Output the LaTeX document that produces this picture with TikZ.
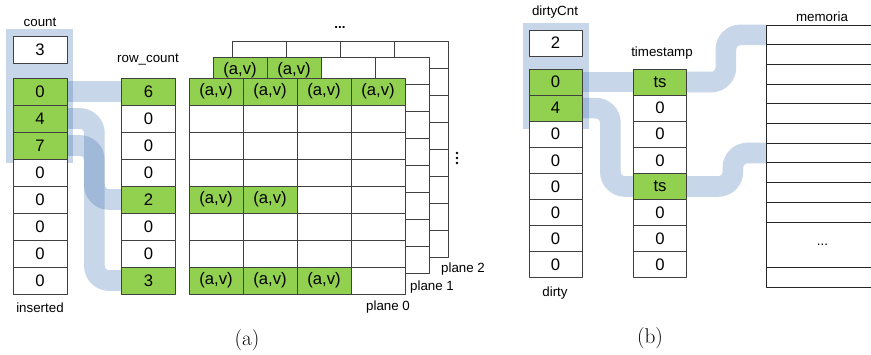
\documentclass[tikz,border=0pt]{standalone}
\usepackage{fontspec}
\setsansfont{Liberation Sans}
\usepackage{tikz}
\usetikzlibrary{backgrounds}

\definecolor{avgreen}{RGB}{146,208,80}
\definecolor{pipeblue}{RGB}{70,120,180}

\tikzset{
	cell/.style={draw=black!75, line width=0.6pt, fill=white, inner sep=0pt,
		minimum width=40.5pt, minimum height=20.25pt,
		font=\sffamily\fontsize{12.5}{14}\selectfont},
	hit/.style={cell, fill=avgreen},
	tcell/.style={cell, minimum width=39.75pt, minimum height=19.6pt},
	tyes/.style={tcell, fill=avgreen},
	memrow/.style={draw=black!85, line width=0.6pt, fill=white, anchor=west,
		minimum width=84pt, minimum height=14.8pt, inner sep=0pt,
		font=\sffamily\fontsize{10}{12}\selectfont},
	lbl/.style={font=\sffamily\fontsize{10}{12}\selectfont, inner sep=1pt},
	pipe/.style={line width=15.5pt, draw=pipeblue, draw opacity=0.3, rounded corners=11pt},
	hilite/.style={fill=pipeblue, fill opacity=0.3},
	caption/.style={font=\rmfamily\fontsize{16}{18}\selectfont}
}

\begin{document}
\begin{tikzpicture}[x=0.75pt, y=-0.75pt, line join=round]
	\clip (0,0) rectangle (871,354);

	% ---------- (a) ----------
	\node[lbl] at (40,22) {count};
	\node[cell] (cnt) at (40,49.5) {3};
	\foreach \v/\s [count=\i from 0] in {0/hit,4/hit,7/hit,0/cell,0/cell,0/cell,0/cell,0/cell}
		\node[\s] (ins\i) at (40,{91.5+27*\i}) {\v};
	\node[lbl] at (40,308) {inserted};

	\node[lbl] at (148,60) {row\_count};
	\foreach \v/\s [count=\i from 0] in {6/hit,0/cell,0/cell,0/cell,2/hit,0/cell,0/cell,3/hit}
		\node[\s] (rc\i) at (148.5,{91.5+27*\i}) {\v};

	% planes, back to front
	\foreach \r in {0,...,7}
		\foreach \c in {0,...,3}
			\node[cell] (p2-\r-\c) at ({259+54*\c},{54.5+27*\r}) {};
	\foreach \r/\n in {0/2,1/0,2/0,3/0,4/0,5/0,6/0,7/0}
		\foreach \c in {0,...,3}{
			\ifnum\c<\n
				\node[hit] (p1-\r-\c) at ({240+54*\c},{70.5+27*\r}) {(a,v)};
			\else
				\node[cell] (p1-\r-\c) at ({240+54*\c},{70.5+27*\r}) {};
			\fi
		}
	\foreach \r/\n in {0/4,1/0,2/0,3/0,4/2,5/0,6/0,7/3}
		\foreach \c in {0,...,3}{
			\ifnum\c<\n
				\node[hit] (p0-\r-\c) at ({216+54*\c},{91.5+27*\r}) {(a,v)};
			\else
				\node[cell] (p0-\r-\c) at ({216+54*\c},{91.5+27*\r}) {};
			\fi
		}
	\node[font=\sffamily\bfseries] at (340,28) {...};
	% more planes behind
	\foreach \y in {153,158,163}
		\fill (457,\y) circle (1.4);
	\node[lbl] at (463,269) {plane 2};
	\node[lbl] at (432,287) {plane 1};
	\node[lbl] at (388,307) {plane 0};
	\node[caption] at (247,340) {(a)};

	% ---------- (b) ----------
	\node[lbl] at (555,12) {dirtyCnt};
	\node[tcell] (dcnt) at (555.5,43) {2};
	\foreach \v/\s [count=\i from 0] in {0/tyes,4/tyes,0/tcell,0/tcell,0/tcell,0/tcell,0/tcell,0/tcell}
		\node[\s] (dt\i) at (555.5,{82.05+26.1*\i}) {\v};
	\node[lbl] at (555,293) {dirty};

	\node[lbl] at (662,53) {timestamp};
	\foreach \v/\s [count=\i from 0] in {ts/tyes,0/tcell,0/tcell,0/tcell,ts/tyes,0/tcell,0/tcell,0/tcell}
		\node[\s] (ts\i) at (660,{82.05+26.1*\i}) {\v};

	\node[lbl] at (822,17) {memoria};
	\foreach \i in {0,...,9}
		\node[memrow] (mem\i) at (766,{34.85+19.7*\i}) {};
	\node[memrow, minimum height=33.75pt] (memdots) at (766,244.5) {...};
	\node[memrow, minimum height=15pt] (memlast) at (766,277) {};
	\node[caption] at (650,338) {(b)};

	% highlight boxes and links
	\begin{scope}[on background layer]
		\fill[white] (0,0) rectangle (871,354);
		\fill[hilite] (6,29) rectangle (73,163);
		\draw[pipe] (ins0.east) -- (rc0.west);
		\draw[pipe] (ins1.east) -- ++(27,0) |- (rc4.west);
		\draw[pipe] (ins2.east) -- ++(27,0) |- (rc7.west);
		\fill[hilite] (523,23) rectangle (589,129);
		\draw[pipe] (dt0.east) -- (ts0.west);
		\draw[pipe] (ts0.east) -- ++(39,0) |- (mem0.west);
		\draw[pipe] (dt1.east) -- ++(28,0) |- (ts4.west);
		\draw[pipe] (ts4.east) -- ++(46,0) |- (mem6.west);
	\end{scope}
\end{tikzpicture}
\end{document}
